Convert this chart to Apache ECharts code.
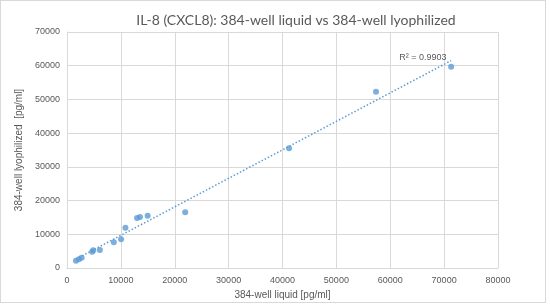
<!DOCTYPE html>
<html>
<head>
<meta charset="utf-8">
<script src="https://cdn.jsdelivr.net/npm/echarts@6/dist/echarts.min.js"></script>
<style>
  html, body { margin: 0; padding: 0; background: #fff; }
  #chart { width: 550px; height: 305px; }
  #frame { position: absolute; left: 0; top: 0; width: 544px; height: 301px; border: 1px solid #d9d9d9; pointer-events: none; }
</style>
</head>
<body>
<div id="chart"></div>
<div id="frame"></div>
<script>
// values
const liquid = [1660, 2220, 2710, 4680, 4870, 6100, 8690, 10040, 10850, 13000, 13550, 14970, 21940, 41220, 57360, 71300];
const lyophilized = [2170, 2580, 3060, 4840, 5250, 5340, 7620, 8510, 11960, 14840, 15130, 15520, 16530, 35520, 52300, 59700];
const titleText = 'IL-8 (CXCL8): 384-well liquid vs 384-well lyophilized';
const xName = '384-well liquid [pg/ml]';
const yName = '384-well lyophilized  [pg/ml]';
const r2Text = 'R² = 0.9903';

const points = liquid.map((x, i) => [x, lyophilized[i]]);

// linear trendline (least squares)
const n = liquid.length;
const mx = liquid.reduce((a, b) => a + b, 0) / n;
const my = lyophilized.reduce((a, b) => a + b, 0) / n;
let sxy = 0, sxx = 0;
liquid.forEach((x, i) => { sxy += (x - mx) * (lyophilized[i] - my); sxx += (x - mx) * (x - mx); });
const slope = sxy / sxx;
const icept = my - slope * mx;
const xMin = Math.min(...liquid), xMax = Math.max(...liquid);
const trend = [[xMin, icept + slope * xMin], [xMax, icept + slope * xMax]];

const txt = '#595959';
const plain = v => String(v);
const chart = echarts.init(document.getElementById('chart'));
chart.setOption({
  animation: false,
  title: {
    text: titleText, left: 291, top: 8, textAlign: 'center',
    textStyle: { fontSize: 14, fontWeight: 'normal', color: txt, fontFamily: 'Lato' }
  },
  grid: { left: 67, right: 52, top: 32, bottom: 37 },
  xAxis: {
    type: 'value', min: 0, max: 80000, interval: 10000,
    name: xName, nameLocation: 'middle', nameGap: 17,
    nameTextStyle: { fontSize: 10, color: txt },
    axisLine: { show: true, lineStyle: { color: '#d9d9d9' } },
    axisTick: { show: false },
    axisLabel: { fontSize: 9, color: txt, margin: 8, formatter: plain },
    splitLine: { lineStyle: { color: '#d9d9d9' } }
  },
  yAxis: {
    type: 'value', min: 0, max: 70000, interval: 10000,
    name: yName, nameLocation: 'middle', nameGap: 40,
    nameTextStyle: { fontSize: 10, color: txt },
    axisLine: { show: true, lineStyle: { color: '#d9d9d9' } },
    axisTick: { show: false },
    axisLabel: { fontSize: 9, color: txt, margin: 7, formatter: plain },
    splitLine: { lineStyle: { color: '#d9d9d9' } }
  },
  series: [
    {
      type: 'scatter', data: points, symbolSize: 6,
      itemStyle: { color: '#5b9bd5' }, z: 3
    },
    {
      type: 'line', data: trend, symbol: 'none', silent: true,
      lineStyle: { color: '#5b9bd5', width: 1.5, type: [1.5, 2] },
      endLabel: {
        show: true, formatter: r2Text, position: 'insideEnd',
        offset: [-60, -3], fontSize: 9, color: txt
      }
    }
  ]
});
</script>
</body>
</html>
